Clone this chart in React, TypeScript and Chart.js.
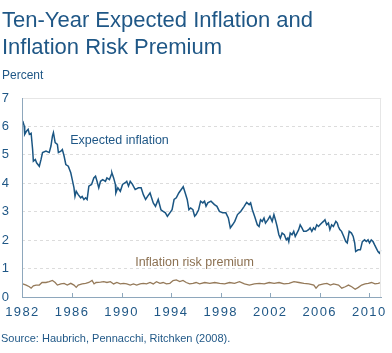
import React, { useEffect, useRef } from "react";
import { Chart, registerables } from "chart.js";

Chart.register(...registerables);

const titleLines = ["Ten-Year Expected Inflation and", "Inflation Risk Premium"];
const unitLabel = "Percent";
const sourceText = "Source: Haubrich, Pennacchi, Ritchken (2008).";
const seriesNames = ["Expected inflation", "Inflation risk premium"];
const xTickYears = [1982, 1986, 1990, 1994, 1998, 2002, 2006, 2010];

const expYears = [
  1982.02, 1982.14, 1982.18, 1982.34, 1982.46, 1982.56, 1982.7, 1982.82, 1982.88, 1983.04,
  1983.14, 1983.36, 1983.5, 1983.62, 1983.9, 1984.16, 1984.3, 1984.42, 1984.5, 1984.64,
  1984.82, 1984.9, 1985.1, 1985.22, 1985.36, 1985.5, 1985.7, 1985.9, 1986.02, 1986.16,
  1986.24, 1986.34, 1986.5, 1986.7, 1986.82, 1986.96, 1987.1, 1987.22, 1987.36, 1987.58,
  1987.76, 1987.9, 1988.02, 1988.16, 1988.3, 1988.48, 1988.7, 1988.82, 1989.02, 1989.18,
  1989.22, 1989.36, 1989.5, 1989.54, 1989.7, 1989.9, 1990.08, 1990.3, 1990.42, 1990.56,
  1990.7, 1990.88, 1991.1, 1991.36, 1991.58, 1991.76, 1991.94, 1992.1, 1992.3, 1992.56,
  1992.74, 1992.96, 1993.18, 1993.36, 1993.54, 1993.7, 1993.9, 1994.08, 1994.24, 1994.42,
  1994.62, 1994.82, 1994.98, 1995.14, 1995.3, 1995.44, 1995.58, 1995.76, 1995.9, 1996.02,
  1996.22, 1996.38, 1996.56, 1996.7, 1996.82, 1996.96, 1997.22, 1997.5, 1997.7, 1997.9,
  1998.16, 1998.42, 1998.62, 1998.78, 1998.96, 1999.14, 1999.36, 1999.62, 1999.9, 2000.1,
  2000.3, 2000.42, 2000.56, 2000.74, 2000.96, 2001.1, 2001.22, 2001.36, 2001.5, 2001.62,
  2001.82, 2001.98, 2002.16, 2002.3, 2002.42, 2002.56, 2002.7, 2002.82, 2002.96, 2003.14,
  2003.3, 2003.42, 2003.5, 2003.62, 2003.76, 2003.9, 2004.02, 2004.16, 2004.3, 2004.42,
  2004.56, 2004.7, 2004.9, 2005.1, 2005.22, 2005.36, 2005.5, 2005.62, 2005.76, 2005.9,
  2006.02, 2006.16, 2006.3, 2006.42, 2006.56, 2006.7, 2006.82, 2006.96, 2007.1, 2007.3,
  2007.42, 2007.5, 2007.62, 2007.76, 2007.94, 2008.1, 2008.22, 2008.38, 2008.56, 2008.7,
  2008.82, 2008.9, 2009.1, 2009.28, 2009.44, 2009.62, 2009.76, 2009.9, 2010.02, 2010.16,
  2010.3, 2010.42, 2010.56, 2010.7, 2010.82, 2010.96,
];
const expValues = [
  6.19, 6.02, 5.72, 5.84, 5.9, 5.72, 5.76, 5.19, 4.78, 4.84,
  4.72, 4.6, 4.84, 5.08, 5.13, 5.08, 5.31, 5.66, 5.78, 5.43,
  5.37, 5.08, 5.13, 5.19, 4.96, 4.66, 4.6, 4.37, 4.13, 3.84,
  3.54, 3.72, 3.6, 3.49, 3.54, 3.43, 3.49, 3.43, 3.9, 3.96,
  4.19, 4.25, 4.07, 3.84, 4.07, 4.13, 4.07, 4.19, 4.13, 4.31,
  4.37, 4.19, 3.96, 3.66, 3.84, 3.72, 3.96, 4.02, 4.07, 3.9,
  4.07, 3.96, 3.78, 3.84, 3.84, 3.6, 3.43, 3.54, 3.66, 3.31,
  3.19, 3.43, 3.07, 3.01, 2.96, 2.84, 2.96, 3.07, 3.43, 3.49,
  3.66, 3.78, 3.88, 3.66, 3.43, 3.07, 3.13, 3.07, 2.84, 2.9,
  3.07, 3.37, 3.31, 3.37, 3.19, 3.31, 3.37, 3.25, 3.19, 3.01,
  2.96, 2.96, 2.78, 2.43, 2.54, 2.66, 2.9, 3.01, 3.19, 3.33,
  3.25, 3.31, 3.07, 2.84, 2.54, 2.48, 2.72, 2.66, 2.78, 2.6,
  2.72, 2.84, 2.66, 2.9, 2.72, 2.48, 2.19, 2.07, 2.25, 2.19,
  2.01, 2.07, 1.95, 2.25, 2.19, 2.31, 2.13, 2.25, 2.37, 2.54,
  2.43, 2.31, 2.31, 2.37, 2.43, 2.31, 2.43, 2.37, 2.54, 2.48,
  2.54, 2.6, 2.66, 2.72, 2.54, 2.6, 2.37, 2.54, 2.48, 2.66,
  2.6, 2.48, 2.37, 2.31, 2.13, 1.95, 1.9, 2.31, 2.25, 2.13,
  1.9, 1.6, 1.66, 1.66, 1.95, 2.01, 1.95, 2.01, 1.9, 2.01,
  1.95, 1.84, 1.72, 1.6, 1.54, 1.66,
];

const riskYears = [
  1982.02, 1982.3, 1982.56, 1982.7, 1982.88, 1983.1, 1983.36, 1983.58, 1983.9, 1984.16,
  1984.42, 1984.64, 1984.82, 1985.1, 1985.36, 1985.62, 1985.9, 1986.16, 1986.34, 1986.5,
  1986.82, 1987.1, 1987.36, 1987.62, 1987.78, 1987.94, 1988.3, 1988.56, 1988.82, 1989.1,
  1989.36, 1989.62, 1989.9, 1990.16, 1990.42, 1990.7, 1990.96, 1991.22, 1991.5, 1991.76,
  1992.02, 1992.3, 1992.56, 1992.82, 1993.1, 1993.36, 1993.62, 1993.9, 1994.16, 1994.42,
  1994.7, 1994.96, 1995.22, 1995.5, 1995.76, 1996.02, 1996.3, 1996.72, 1997.12, 1997.52,
  1997.92, 1998.32, 1998.72, 1999.12, 1999.52, 1999.92, 2000.32, 2000.72, 2001.12, 2001.52,
  2001.92, 2002.32, 2002.72, 2003.12, 2003.52, 2003.92, 2004.32, 2004.72, 2005.12, 2005.52,
  2005.7, 2005.92, 2006.32, 2006.58, 2006.86, 2007.12, 2007.52, 2007.78, 2008.06, 2008.32,
  2008.58, 2008.86, 2009.12, 2009.38, 2009.66, 2009.92, 2010.18, 2010.46, 2010.72, 2010.94,
];
const riskValues = [
  0.46, 0.42, 0.36, 0.31, 0.39, 0.42, 0.42, 0.51, 0.51, 0.54,
  0.58, 0.51, 0.42, 0.46, 0.48, 0.42, 0.48, 0.42, 0.34, 0.42,
  0.46, 0.48, 0.51, 0.58, 0.46, 0.51, 0.52, 0.54, 0.51, 0.54,
  0.46, 0.51, 0.46, 0.48, 0.46, 0.42, 0.46, 0.42, 0.46, 0.48,
  0.46, 0.51, 0.46, 0.54, 0.48, 0.51, 0.46, 0.48, 0.58, 0.6,
  0.54, 0.58, 0.51, 0.46, 0.48, 0.51, 0.46, 0.51, 0.48, 0.51,
  0.48, 0.46, 0.51, 0.48, 0.54, 0.46, 0.42, 0.46, 0.48, 0.46,
  0.51, 0.48, 0.51, 0.46, 0.48, 0.54, 0.51, 0.48, 0.46, 0.42,
  0.31, 0.42, 0.46, 0.48, 0.42, 0.46, 0.42, 0.31, 0.36, 0.42,
  0.36, 0.27, 0.34, 0.42, 0.46, 0.48, 0.51, 0.46, 0.48, 0.51,
];

const BLUE = "#1b5683";
const TEXT_BLUE = "#1f5786";
const BROWN = "#957a5a";
const BROWN_TEXT = "#8c7152";
const AXIS = "#8ea7bc";
const FONT = '"Liberation Sans", Arial, sans-serif';

export default function App() {
  const ref = useRef<HTMLCanvasElement>(null);

  useEffect(() => {
    if (!ref.current) return;
    const decor = {
      id: "decor",
      beforeDraw(chart: any) {
        chart.ctx.letterSpacing = "1.4px";
      },
      afterDatasetsDraw(chart: any) {
        const { ctx, chartArea, scales } = chart;
        const xs = scales.x;
        const ys = scales.y;
        ctx.save();
        ctx.letterSpacing = "0px";
        ctx.setLineDash([]);
        ctx.strokeStyle = "#e6e6e6";
        ctx.lineWidth = 1;
        ctx.beginPath();
        ctx.moveTo(chartArea.left, Math.round(chartArea.top) + 0.5);
        ctx.lineTo(chartArea.right, Math.round(chartArea.top) + 0.5);
        ctx.moveTo(Math.round(chartArea.right) - 0.5, chartArea.top);
        ctx.lineTo(Math.round(chartArea.right) - 0.5, chartArea.bottom);
        ctx.stroke();
        ctx.strokeStyle = AXIS;
        ctx.beginPath();
        ctx.moveTo(Math.round(chartArea.left) + 0.5, chartArea.top);
        ctx.lineTo(Math.round(chartArea.left) + 0.5, chartArea.bottom);
        xTickYears.forEach((yr) => {
          const px = Math.round(xs.getPixelForValue(yr)) + 0.5;
          ctx.moveTo(px, chartArea.bottom);
          ctx.lineTo(px, chartArea.bottom - 4);
        });
        ctx.stroke();
        ctx.font = `12.5px ${FONT}`;
        ctx.textBaseline = "alphabetic";
        ctx.textAlign = "left";
        ctx.fillStyle = TEXT_BLUE;
        ctx.fillText(seriesNames[0], xs.getPixelForValue(1985.85), ys.getPixelForValue(5.37));
        ctx.fillStyle = BROWN_TEXT;
        ctx.fillText(seriesNames[1], xs.getPixelForValue(1991.1), ys.getPixelForValue(1.1));
        ctx.restore();
      },
      afterDraw(chart: any) {
        chart.ctx.letterSpacing = "0px";
      },
    };

    const chart = new Chart(ref.current, {
      type: "line",
      data: {
        datasets: [
          {
            label: seriesNames[0],
            data: expYears.map((x, i) => ({ x, y: expValues[i] })),
            borderColor: BLUE,
            borderWidth: 1.5,
            pointRadius: 0,
            tension: 0,
          },
          {
            label: seriesNames[1],
            data: riskYears.map((x, i) => ({ x, y: riskValues[i] })),
            borderColor: BROWN,
            borderWidth: 1.3,
            pointRadius: 0,
            tension: 0,
          },
        ],
      },
      options: {
        responsive: false,
        animation: false,
        devicePixelRatio: 1,
        layout: { padding: { top: 98, right: 9, left: 0, bottom: 0 } },
        plugins: { legend: { display: false }, tooltip: { enabled: false }, title: { display: false } },
        scales: {
          x: {
            type: "linear",
            min: 1982,
            max: 2010.96,
            afterFit: (s: any) => {
              s.height = 56;
            },
            afterBuildTicks: (s: any) => {
              s.ticks = xTickYears.map((v) => ({ value: v }));
            },
            grid: { display: false, drawTicks: false },
            border: { display: true, color: AXIS, width: 1 },
            ticks: {
              color: TEXT_BLUE,
              font: { family: FONT, size: 13 },
              padding: 8,
              maxRotation: 0,
              autoSkip: false,
              callback: (v: any) => String(v),
            },
          },
          y: {
            min: 0,
            max: 7,
            afterFit: (s: any) => {
              s.width = 21;
            },
            ticks: {
              stepSize: 1,
              color: TEXT_BLUE,
              font: { family: FONT, size: 13 },
              padding: 12,
            },
            grid: {
              drawTicks: false,
              color: (c: any) => (c.tick && (c.tick.value === 0 || c.tick.value === 7) ? "rgba(0,0,0,0)" : "#dcdcdc"),
              lineWidth: 1,
            },
            border: { display: false, dash: [3, 3] },
          },
        },
      },
      plugins: [decor],
    } as any);
    return () => chart.destroy();
  }, []);

  return (
    <div style={{ position: "absolute", left: 0, top: 0, width: 392, height: 353, background: "#fff", fontFamily: FONT }}>
      <div style={{ position: "absolute", left: 2, top: 6, fontSize: 22, lineHeight: "27px", color: TEXT_BLUE, whiteSpace: "nowrap" }}>
        {titleLines[0]}
        <br />
        {titleLines[1]}
      </div>
      <div style={{ position: "absolute", left: 2, top: 68, fontSize: 12, lineHeight: "14px", color: TEXT_BLUE }}>{unitLabel}</div>
      <canvas ref={ref} width={392} height={353} style={{ display: "block", width: 392, height: 353 }} />
      <div style={{ position: "absolute", left: 1, top: 332, fontSize: 11, lineHeight: "13px", color: TEXT_BLUE, whiteSpace: "nowrap" }}>{sourceText}</div>
    </div>
  );
}
